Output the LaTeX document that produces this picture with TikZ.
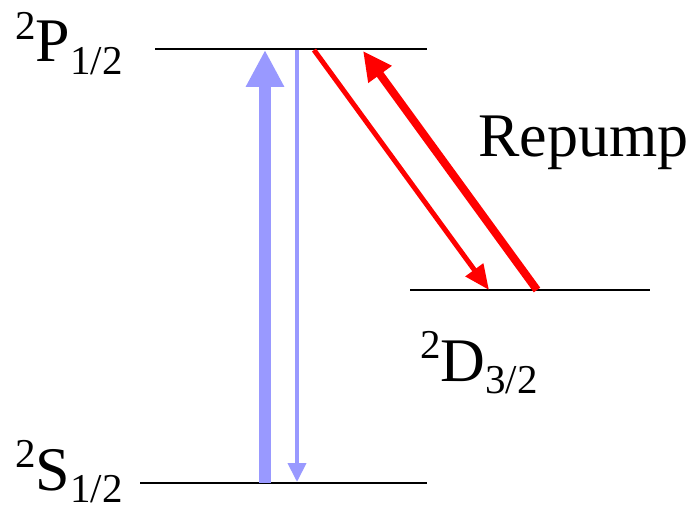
\documentclass[tikz,border=0pt]{standalone}
\usepackage{fontspec}
\setmainfont{Liberation Serif}
\usetikzlibrary{arrows.meta}
\definecolor{pumpblue}{HTML}{9999FF}
\definecolor{repred}{HTML}{FF0000}
\newcommand\lvlname[3]{\raisebox{0.36em}{\fontsize{41}{41}\selectfont #1}#2\raisebox{-0.2em}{\fontsize{41}{41}\selectfont #3}}
\begin{document}
\begin{tikzpicture}[x=1pt,y=-1pt,
  level/.style={line width=2pt, black},
  lbl/.style={inner sep=0pt, anchor=base west, font=\fontsize{62}{62}\selectfont},
  bigpump/.style={line width=12pt, pumpblue, -{Triangle[length=37pt,width=36pt]}},
  decay/.style={line width=4pt, pumpblue, -{Triangle[length=19pt,width=18pt]}},
  reddecay/.style={line width=5pt, repred, -{Triangle[length=25pt,width=21pt]}},
  redpump/.style={line width=8pt, repred, -{Triangle[length=29pt,width=27pt]}}]
\useasboundingbox (0,0) rectangle (698,508);
% level end points
\coordinate (P1) at (155,49);  \coordinate (P2) at (427,49);
\coordinate (S1) at (140,483); \coordinate (S2) at (427,483);
\coordinate (D1) at (410,290); \coordinate (D2) at (650,290);
\draw[level] (P1) -- (P2);
\draw[level] (S1) -- (S2);
\draw[level] (D1) -- (D2);
% arrow end points
\coordinate (bs) at (265,483); \coordinate (be) at (265,50);
\coordinate (ds) at (297,50);  \coordinate (de) at (297,482);
\coordinate (rs) at (314,50);  \coordinate (re) at (489,290);
\coordinate (ps) at (537,290); \coordinate (pe) at (363,51);
\draw[bigpump] (bs) -- (be);
\draw[decay] (ds) -- (de);
\draw[reddecay] (rs) -- (re);
\draw[redpump] (ps) -- (pe);
% labels
\node[lbl] (lP) at (15,62) {\lvlname{2}{P}{1/2}};
\node[lbl] (lS) at (15,490) {\lvlname{2}{S}{1/2}};
\node[lbl] (lD) at (420,381) {\lvlname{2}{D}{3/2}};
\node[lbl] (lR) at (478,156) {Repump};
\end{tikzpicture}
\end{document}
